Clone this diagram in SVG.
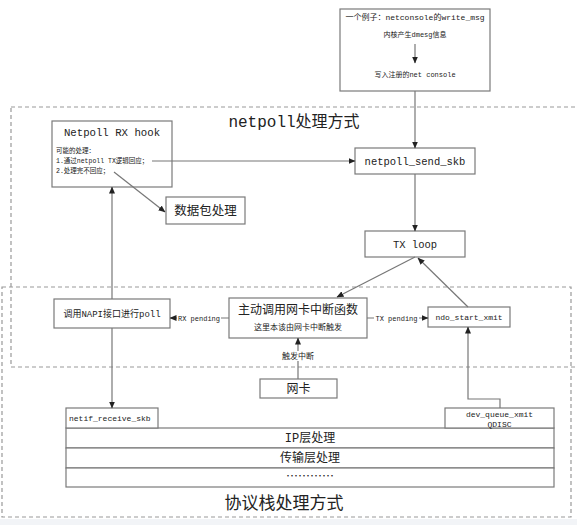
<svg xmlns="http://www.w3.org/2000/svg" width="577" height="525" viewBox="0 0 577 525">
<style>
.box{fill:#fff;stroke:#7a7a7a;stroke-width:1.2}
.dash{fill:none;stroke:#999;stroke-width:1.2;stroke-dasharray:4,3}
.ln{fill:none;stroke:#777;stroke-width:1.2}
.m{font-family:"Liberation Mono","Noto Sans CJK SC",monospace;fill:#222}
.c{font-family:"Noto Sans CJK SC",sans-serif;fill:#222}
.mid{text-anchor:middle}
</style>
<defs>
<marker id="ah" markerUnits="userSpaceOnUse" markerWidth="7" markerHeight="6" refX="6.5" refY="3" orient="auto">
<path d="M0,0 L7,3 L0,6 z" fill="#222"/>
</marker>
</defs>
<rect x="0" y="0" width="577" height="525" fill="#fff"/>
<rect x="0" y="519" width="577" height="6" fill="#f2f4f7"/>

<g id="regions">
<rect class="dash" x="11" y="107" width="600" height="260"/>
<rect class="dash" x="2" y="287" width="569" height="230"/>
<text class="m mid" x="294" y="127" font-size="16">netpoll处理方式</text>
<text class="c mid" x="284" y="509" font-size="17">协议栈处理方式</text>
</g>

<g id="example">
<rect class="box" x="340" y="9" width="150" height="82"/>
<text class="m mid" x="415" y="20" font-size="8">一个例子：netconsole的write_msg</text>
<text class="m mid" x="415" y="37" font-size="7">内核产生dmesg信息</text>
<text class="m mid" x="415" y="77" font-size="7">写入注册的net console</text>
</g>

<g id="rxhook">
<rect class="box" x="52" y="121" width="120" height="66"/>
<text class="m mid" x="112" y="136" font-size="10.7">Netpoll RX hook</text>
<text class="m" x="56" y="153" font-size="6.5">可能的处理：</text>
<text class="m" x="56" y="163" font-size="6.5">1.通过netpoll TX逻辑回应；</text>
<text class="m" x="56" y="173" font-size="6.5">2.处理完不回应；</text>
</g>

<g id="pkt">
<rect class="box" x="166" y="197" width="79" height="27"/>
<text class="c mid" x="205.5" y="215" font-size="12.5">数据包处理</text>
</g>

<g id="sendskb">
<rect class="box" x="355" y="148" width="120" height="26"/>
<text class="m mid" x="415" y="165" font-size="10.5">netpoll_send_skb</text>
</g>

<g id="txloop">
<rect class="box" x="365" y="231" width="100" height="26"/>
<text class="m mid" x="415" y="248" font-size="10.5">TX loop</text>
</g>

<g id="napi">
<rect class="box" x="54" y="299" width="116" height="29"/>
<text class="m mid" x="112" y="317" font-size="9">调用NAPI接口进行poll</text>
</g>

<g id="irq">
<rect class="box" x="229" y="298" width="138" height="40"/>
<text class="c mid" x="298" y="314" font-size="12">主动调用网卡中断函数</text>
<text class="c mid" x="298" y="330" font-size="8">这里本该由网卡中断触发</text>
</g>

<g id="ndo">
<rect class="box" x="428" y="307" width="82" height="20"/>
<text class="m mid" x="469" y="320" font-size="8">ndo_start_xmit</text>
</g>

<g id="nic">
<rect class="box" x="260" y="379" width="77" height="19"/>
<text class="c mid" x="298.5" y="393" font-size="12">网卡</text>
</g>

<g id="stack">
<rect class="box" x="66" y="428" width="488" height="20"/>
<rect class="box" x="66" y="448" width="488" height="20"/>
<rect class="box" x="66" y="468" width="488" height="19"/>
<text class="m mid" x="310" y="442" font-size="12">IP层处理</text>
<text class="c mid" x="310" y="462" font-size="12">传输层处理</text>
<text class="c mid" x="310" y="481" font-size="12">…………</text>
</g>

<g id="netif">
<rect class="box" x="66" y="408" width="92" height="20"/>
<text class="m" x="69" y="421" font-size="8">netif_receive_skb</text>
</g>

<g id="devq">
<rect class="box" x="445" y="408" width="109" height="20"/>
<text class="m mid" x="499.5" y="416.5" font-size="8">dev_queue_xmit</text>
<text class="m mid" x="499.5" y="426.5" font-size="8">QDISC</text>
</g>

<g id="connectors">
<line class="ln" x1="415" y1="44" x2="415" y2="63" marker-end="url(#ah)"/>
<line class="ln" x1="415" y1="91" x2="415" y2="148" marker-end="url(#ah)"/>
<line class="ln" x1="152" y1="161" x2="355" y2="161" marker-end="url(#ah)"/>
<line class="ln" x1="114" y1="172" x2="165" y2="212" marker-end="url(#ah)"/>
<line class="ln" x1="415" y1="174" x2="415" y2="231" marker-end="url(#ah)"/>
<line class="ln" x1="415" y1="257" x2="337" y2="297" marker-end="url(#ah)"/>
<line class="ln" x1="468" y1="307" x2="418" y2="258" marker-end="url(#ah)"/>
<line class="ln" x1="229" y1="318" x2="170" y2="318" marker-end="url(#ah)"/>
<rect x="177" y="313" width="44" height="9" fill="#fff"/>
<text class="m mid" x="199" y="320.5" font-size="7">RX pending</text>
<line class="ln" x1="367" y1="318" x2="428" y2="318" marker-end="url(#ah)"/>
<rect x="374" y="313" width="45" height="9" fill="#fff"/>
<text class="m mid" x="396.5" y="320.5" font-size="7">TX pending</text>
<line class="ln" x1="298" y1="379" x2="298" y2="338" marker-end="url(#ah)"/>
<rect x="281" y="351" width="34" height="10" fill="#fff"/>
<text class="c mid" x="298" y="359" font-size="8">触发中断</text>
<line class="ln" x1="112" y1="299" x2="112" y2="187" marker-end="url(#ah)"/>
<line class="ln" x1="112" y1="328" x2="112" y2="408" marker-end="url(#ah)"/>
<path class="ln" d="M500,408 V399 H468 V327" marker-end="url(#ah)"/>
</g>
</svg>
